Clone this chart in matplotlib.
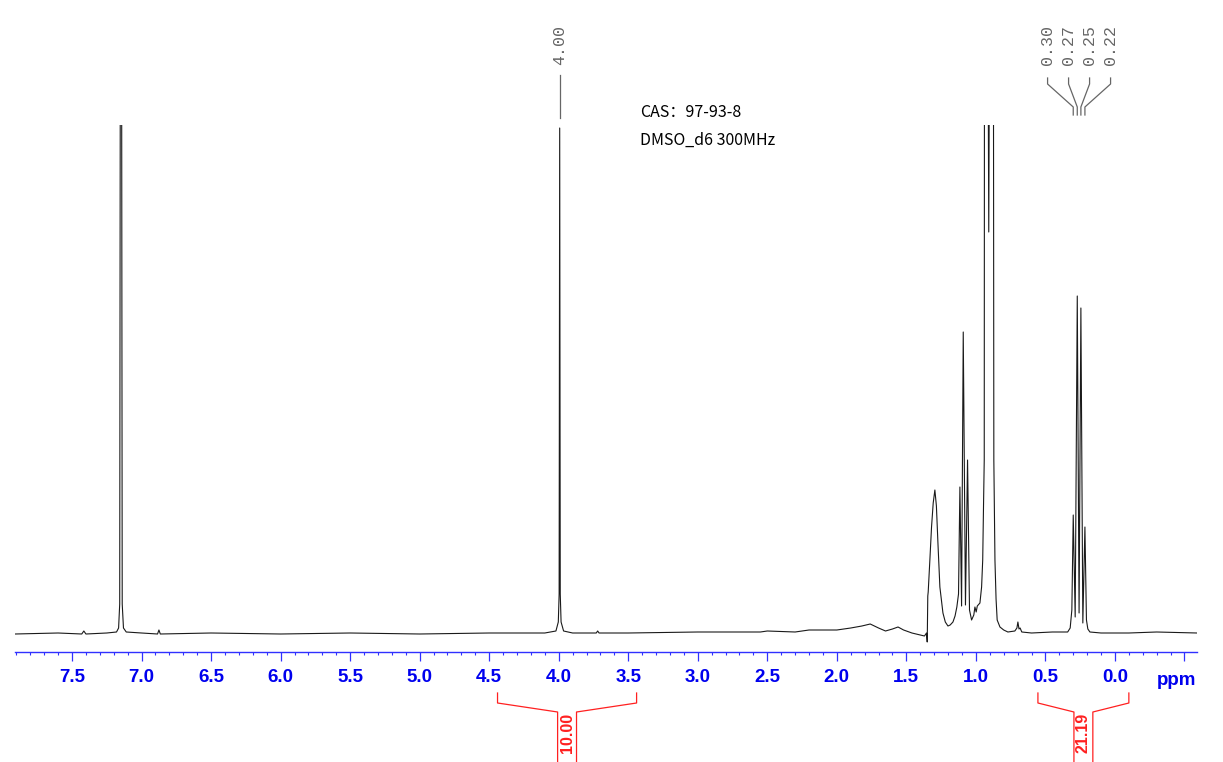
import matplotlib
matplotlib.use('Agg')
import matplotlib.pyplot as plt
from matplotlib import transforms
from matplotlib.ticker import FixedLocator, MultipleLocator

W, H = 1223, 762

# spectrum: chemical shift (ppm) and height above baseline (px units)
ppm = [7.91, 7.60, 7.43, 7.415, 7.40, 7.25, 7.18, 7.165, 7.157, 7.148, 7.139, 7.130, 7.11,
       7.00, 6.885, 6.875, 6.865, 6.50, 6.00, 5.50, 5.00, 4.50, 4.10, 4.02, 4.003, 3.997,
       3.993, 3.989, 3.983, 3.965, 3.90, 3.73, 3.72, 3.71, 3.50, 3.00, 2.55, 2.50, 2.30,
       2.20, 2.00, 1.90, 1.82, 1.76, 1.70, 1.65, 1.60, 1.56, 1.52, 1.46, 1.40, 1.37, 1.355,
       1.350, 1.346, 1.343, 1.331, 1.319, 1.307, 1.295, 1.284, 1.273, 1.259, 1.237, 1.220,
       1.201, 1.185, 1.165, 1.150, 1.137, 1.125, 1.115, 1.103, 1.091, 1.075, 1.060, 1.046,
       1.031, 1.015, 1.007, 0.998, 0.990, 0.971, 0.959, 0.951, 0.945, 0.940, 0.935, 0.9075,
       0.880, 0.871, 0.863, 0.855, 0.847, 0.827, 0.80, 0.77, 0.72, 0.705, 0.698, 0.690,
       0.682, 0.670, 0.60, 0.45, 0.34, 0.322, 0.310, 0.300, 0.286, 0.271, 0.258, 0.245,
       0.231, 0.216, 0.205, 0.195, 0.18, 0.10, -0.10, -0.30, -0.59]
intensity = [0, 1, 0, 3, 0, 1, 2, 6, 30, 1200, 30, 6, 2,
             1, 0, 4, 0, 1, 0, 1, 0, 1, 1, 3, 12, 40,
             506, 40, 12, 3, 1, 1, 3, 1, 1, 2, 2, 3, 2,
             4, 4, 6, 8, 10, 6, 3, 5, 7, 4, 1, -1, -2, 1,
             -8, 38, 42, 74, 107, 131, 144, 128, 91, 47, 21, 12,
             8, 9, 12, 18, 27, 40, 147, 28, 302, 29, 174, 24,
             14, 19, 27, 22, 28, 31, 47, 74, 130, 174, 1500, 402,
             1500, 174, 74, 35, 14, 7, 4, 2, 3, 6, 12, 5,
             6, 2, 1, 2, 2, 6, 24, 119, 17, 338, 21, 326,
             11, 107, 14, 5, 2, 1, 1, 2, 1]

major_ticks = [7.5, 7.0, 6.5, 6.0, 5.5, 5.0, 4.5, 4.0, 3.5, 3.0, 2.5, 2.0, 1.5, 1.0, 0.5, 0.0, -0.5]
major_labels = ['7.5', '7.0', '6.5', '6.0', '5.5', '5.0', '4.5', '4.0', '3.5', '3.0',
                '2.5', '2.0', '1.5', '1.0', '0.5', '0.0', '']

single_peak = 3.993
single_label = '4.00'
cluster_peaks = [0.300, 0.271, 0.245, 0.216]
cluster_labels = ['0.30', '0.27', '0.25', '0.22']

integral_ranges = [(4.44, 3.44), (0.554, -0.10)]
integral_values = ['10.00', '21.19']

BLUE = '#0000ee'
GRAY = '#666666'
RED = '#ff2020'


def fy(p):
    # pixel row -> figure fraction
    return 1 - p / H


fig = plt.figure(figsize=(W / 100, H / 100), dpi=100)
ax = fig.add_axes([15 / W, fy(652), (1197 - 15) / W, (652 - 125) / H])

ax.plot(ppm, intensity, color='#1a1a1a', lw=0.8)
ax.set_xlim(7.91, -0.59)
ax.set_ylim(-18, 509)

for s in ['left', 'top', 'right']:
    ax.spines[s].set_visible(False)
ax.spines['bottom'].set_color('#3030ff')
ax.spines['bottom'].set_linewidth(1.0)
ax.set_yticks([])

ax.xaxis.set_major_locator(FixedLocator(major_ticks))
ax.xaxis.set_minor_locator(MultipleLocator(0.1))
ax.set_xticklabels(major_labels)
ax.tick_params(axis='x', which='major', direction='out', length=6.5, width=0.9,
               colors='#3030ff', labelcolor=BLUE, pad=6)
ax.tick_params(axis='x', which='minor', direction='out', length=2.5, width=0.8, colors='#3030ff')
for lab in ax.get_xticklabels():
    lab.set_fontfamily('Liberation Sans')
    lab.set_fontweight('bold')
    lab.set_fontsize(13.5)

fig.text(1177 / W, fy(685), 'ppm', color=BLUE, fontsize=13.5, fontweight='bold',
         family='Liberation Sans', ha='center', va='baseline')

# x in ppm, y in figure fraction
tr = transforms.blended_transform_factory(ax.transData, fig.transFigure)

# peak labels at the top
ax.text(single_peak, fy(25), single_label, rotation=90, ha='center', va='top', transform=tr,
        family='Liberation Mono', fontsize=12, color=GRAY)
ax.plot([single_peak, single_peak], [fy(75), fy(118)], transform=tr, color=GRAY, lw=0.9, clip_on=False)

mid = sum(cluster_peaks) / len(cluster_peaks)
step = 0.151
for i, (pk, lab) in enumerate(zip(cluster_peaks, cluster_labels)):
    lx = mid + (1.5 - i) * step
    ax.text(lx, fy(25), lab, rotation=90, ha='center', va='top', transform=tr,
            family='Liberation Mono', fontsize=12, color=GRAY)
    ax.plot([lx, lx, pk, pk], [fy(78), fy(84), fy(107), fy(115)], transform=tr,
            color=GRAY, lw=0.9, clip_on=False)

# integrals below the axis
gap = 0.068
for (a, b), val in zip(integral_ranges, integral_values):
    c = (a + b) / 2
    ax.plot([a, a, c + gap, c + gap], [fy(693), fy(703), fy(712), fy(762)], transform=tr,
            color=RED, lw=0.9, clip_on=False)
    ax.plot([b, b, c - gap, c - gap], [fy(693), fy(703), fy(712), fy(762)], transform=tr,
            color=RED, lw=0.9, clip_on=False)
    ax.text(c, fy(713), val, rotation=90, ha='center', va='top', transform=tr,
            family='Liberation Sans', fontweight='bold', fontsize=11.5, color=RED)

fig.text(640 / W, fy(112), 'CAS：97-93-8', family=['Noto Sans CJK SC', 'DejaVu Sans'],
         fontsize=11.5, va='center', ha='left')
fig.text(640 / W, fy(140), 'DMSO_d6 300MHz', family=['Noto Sans CJK SC', 'DejaVu Sans'],
         fontsize=11.5, va='center', ha='left')

fig.savefig('out.png', dpi=100)
